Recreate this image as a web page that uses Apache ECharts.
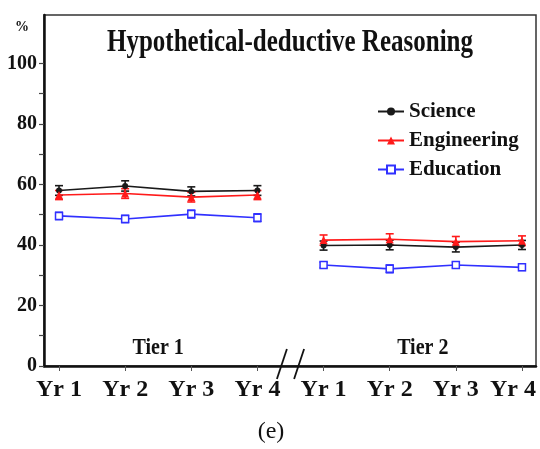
<!DOCTYPE html>
<html>
<head>
<meta charset="utf-8">
<script src="https://cdn.jsdelivr.net/npm/echarts@6/dist/echarts.min.js"></script>
<style>html,body{margin:0;padding:0;background:#fff;}#c{width:540px;height:449px;}</style>
</head>
<body>
<div id="c"></div>
<script>
const years = ['Yr 1','Yr 2','Yr 3','Yr 4','Yr 1','Yr 2','Yr 3','Yr 4'];
const tiers = ['Tier 1','Tier 2'];
const tierCenters = [1.5, 5.5];
const science = [58.0, 59.5, 57.7, 58.0, 39.8, 40.0, 39.3, 40.0];
const scienceErr = [1.6, 1.7, 1.5, 1.6, 1.5, 1.6, 1.6, 1.5];
const engineering = [56.5, 57.0, 55.8, 56.5, 41.6, 41.9, 41.1, 41.4];
const engineeringErr = [1.5, 1.6, 1.6, 1.5, 1.7, 1.8, 1.7, 1.6];
const education = [49.6, 48.6, 50.2, 49.0, 33.4, 32.1, 33.4, 32.6];
const educationErr = [1.2, 1.2, 1.3, 1.3, 0.9, 1.3, 0.9, 1.0];
const yLabels = [0, 20, 40, 60, 80, 100];
const yTicks = [0, 10, 20, 30, 40, 50, 60, 70, 80, 90, 100];

const FONT = 'Liberation Serif';
const groups = [
  {name: 'Science', vals: science, err: scienceErr, color: '#1a1a1a', symbol: 'circle', size: 6, fill: '#1a1a1a'},
  {name: 'Engineering', vals: engineering, err: engineeringErr, color: '#ff1a1a', symbol: 'triangle', size: 8, fill: '#ff1a1a'},
  {name: 'Education', vals: education, err: educationErr, color: '#3030ff', symbol: 'rect', size: 7, fill: '#ffffff'}
];

const series = [];
groups.forEach(g => {
  series.push({
    type: 'custom',
    name: g.name + '-err',
    z: 3,
    data: g.vals.map((v, i) => [i, v - g.err[i], v + g.err[i]]),
    renderItem: function (params, api) {
      const x = api.value(0);
      const lo = api.coord([x, api.value(1)]);
      const hi = api.coord([x, api.value(2)]);
      const hw = 4;
      const st = {stroke: g.color, lineWidth: 1.6};
      return {type: 'group', children: [
        {type: 'line', shape: {x1: lo[0], y1: lo[1], x2: hi[0], y2: hi[1]}, style: st},
        {type: 'line', shape: {x1: lo[0] - hw, y1: lo[1], x2: lo[0] + hw, y2: lo[1]}, style: st},
        {type: 'line', shape: {x1: hi[0] - hw, y1: hi[1], x2: hi[0] + hw, y2: hi[1]}, style: st}
      ]};
    },
    silent: true
  });
  [0, 1].forEach(t => {
    series.push({
      type: 'line',
      name: g.name,
      z: 4,
      data: g.vals.slice(t * 4, t * 4 + 4).map((v, i) => [t * 4 + i, v]),
      symbol: g.symbol,
      symbolSize: g.size,
      showAllSymbol: true,
      lineStyle: {color: g.color, width: 1.6},
      itemStyle: {color: g.fill, borderColor: g.color, borderWidth: g.symbol === 'rect' ? 1.5 : 0},
      emphasis: {disabled: true},
      animation: false
    });
  });
});

const labelFont = {fontFamily: FONT, fontWeight: 'bold', fontSize: 24, color: '#111'};

const chart = echarts.init(document.getElementById('c'));
chart.setOption({
  animation: false,
  backgroundColor: '#ffffff',
  grid: {left: 44, right: 4, top: 15, bottom: 83, show: true, borderColor: '#333', borderWidth: 1.5,
    backgroundColor: 'transparent', containLabel: false, outerBoundsMode: 'none'},
  legend: {
    data: groups.map(g => g.name),
    orient: 'vertical',
    left: 372,
    top: 96,
    itemWidth: 26,
    itemHeight: 10,
    itemGap: 8,
    textStyle: {fontFamily: FONT, fontWeight: 'bold', fontSize: 21, color: '#111'},
    selectedMode: false
  },
  xAxis: {
    type: 'value',
    min: -0.227,
    max: 7.212,
    splitLine: {show: false},
    axisLine: {show: true, onZero: false, lineStyle: {color: '#111', width: 2.5}},
    axisTick: {show: true, length: 5, customValues: years.map((y, i) => i), lineStyle: {color: '#555', width: 1}},
    axisLabel: Object.assign({
      customValues: years.map((y, i) => i),
      formatter: v => {
        const i = Math.round(v);
        return i === years.length - 1 ? '{l|' + years[i] + '}' : '{n|' + years[i] + '}';
      },
      margin: 12,
      rich: {
        n: Object.assign({}, labelFont),
        l: Object.assign({padding: [0, 18, 0, 0]}, labelFont)
      }
    }, labelFont)
  },
  yAxis: {
    type: 'value',
    min: 0,
    max: 116,
    splitLine: {show: false},
    axisLine: {show: true, onZero: false, lineStyle: {color: '#111', width: 2.5}},
    axisTick: {show: true, length: 5, customValues: yTicks, lineStyle: {color: '#444', width: 1.2}},
    axisLabel: {
      customValues: yLabels,
      fontFamily: FONT, fontWeight: 'bold', fontSize: 20, color: '#111', margin: 7
    }
  },
  series: series
});

function drawDecor() {
  const p = (x, y) => chart.convertToPixel({xAxisIndex: 0, yAxisIndex: 0}, [x, y]);
  const gr = [];
  gr.push({type: 'text', x: 290, y: 43, scaleY: 1.25,
    style: {text: 'Hypothetical-deductive Reasoning', fontFamily: FONT, fontWeight: 'bold', fontSize: 25, fill: '#111', align: 'center', verticalAlign: 'middle'}});
  gr.push({type: 'text', x: 22, y: 27, style: {text: '%', fontFamily: FONT, fontWeight: 'bold', fontSize: 14, fill: '#111', align: 'center', verticalAlign: 'middle'}});
  tiers.forEach((t, i) => {
    const c = p(tierCenters[i], 6);
    gr.push({type: 'text', x: c[0], y: c[1], scaleY: 1.2,
      style: {text: t, fontFamily: FONT, fontWeight: 'bold', fontSize: 20, fill: '#111', align: 'center', verticalAlign: 'middle'}});
  });
  [3.37, 3.63].forEach(bx => {
    const c = p(bx, 0);
    gr.push({type: 'line', shape: {x1: c[0] - 5, y1: c[1] + 13, x2: c[0] + 5, y2: c[1] - 17}, style: {stroke: '#111', lineWidth: 1.8}});
  });
  gr.push({type: 'text', x: 271, y: 432, style: {text: '(e)', fontFamily: FONT, fontSize: 24, fill: '#111', align: 'center', verticalAlign: 'middle'}});
  chart.setOption({graphic: gr});
}
drawDecor();
</script>
</body>
</html>
